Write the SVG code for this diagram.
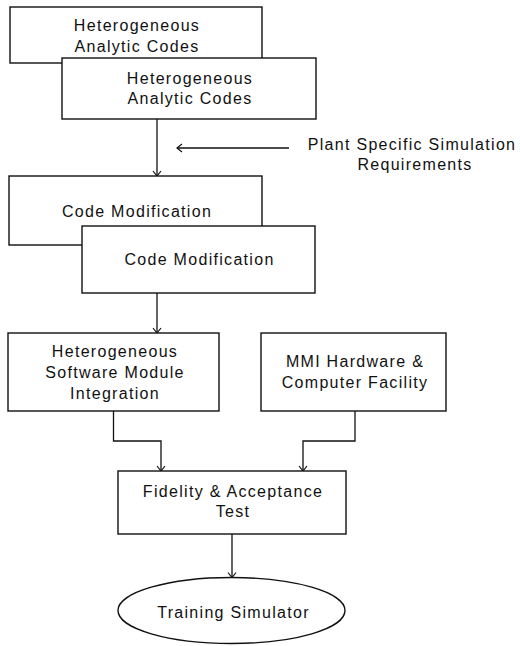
<svg xmlns="http://www.w3.org/2000/svg" width="520" height="646" viewBox="0 0 520 646">
<style>
.box{fill:#fff;stroke:#111;stroke-width:1.4}
.ln{fill:none;stroke:#111;stroke-width:1.3}
text{font-family:"Liberation Sans",Arial,sans-serif;font-size:16px;fill:#111;text-anchor:middle;letter-spacing:1.3px}
</style>
<defs>
<marker id="ah" markerWidth="10" markerHeight="10" refX="8" refY="5" orient="auto" markerUnits="userSpaceOnUse">
<path d="M3,1 L8,5 L3,9" fill="none" stroke="#111" stroke-width="1.2"/>
</marker>
</defs>
<rect width="520" height="646" fill="#fff"/>
<g id="connectors">
<line class="ln" x1="157" y1="119" x2="157" y2="176" marker-end="url(#ah)"/>
<line class="ln" x1="289" y1="148" x2="177" y2="148" marker-end="url(#ah)"/>
<line class="ln" x1="157" y1="293" x2="157" y2="333" marker-end="url(#ah)"/>
<polyline class="ln" points="113.5,411 113.5,441 161,441 161,471" marker-end="url(#ah)"/>
<polyline class="ln" points="355,411 355,441 303,441 303,471" marker-end="url(#ah)"/>
<line class="ln" x1="232" y1="534" x2="232" y2="577.5" marker-end="url(#ah)"/>
</g>
<g id="n1"><rect class="box" x="10" y="7" width="252" height="56"/>
<text x="137" y="31">Heterogeneous</text><text x="137" y="51.5">Analytic Codes</text></g>
<g id="n2"><rect class="box" x="62" y="58" width="254" height="61"/>
<text x="190" y="83.5">Heterogeneous</text><text x="190" y="104">Analytic Codes</text></g>
<g id="label"><text x="412" y="149.5">Plant Specific Simulation</text><text x="415" y="170">Requirements</text></g>
<g id="n3"><rect class="box" x="9" y="176" width="253" height="69"/>
<text x="137" y="216.5">Code Modification</text></g>
<g id="n4"><rect class="box" x="82" y="226" width="233" height="67"/>
<text x="199.5" y="265">Code Modification</text></g>
<g id="n5"><rect class="box" x="8" y="333" width="211" height="78"/>
<text x="115" y="356.5">Heterogeneous</text><text x="115" y="377.5">Software Module</text><text x="115" y="398.5">Integration</text></g>
<g id="n6"><rect class="box" x="261" y="333" width="185" height="78"/>
<text x="355" y="366.5">MMI Hardware &amp;</text><text x="355" y="388">Computer Facility</text></g>
<g id="n7"><rect class="box" x="118" y="471" width="228" height="63"/>
<text x="233" y="496.5">Fidelity &amp; Acceptance</text><text x="233" y="517">Test</text></g>
<g id="n8"><ellipse class="box" cx="231.5" cy="610.5" rx="113.5" ry="33"/>
<text x="233.5" y="617.5">Training Simulator</text></g>
</svg>
